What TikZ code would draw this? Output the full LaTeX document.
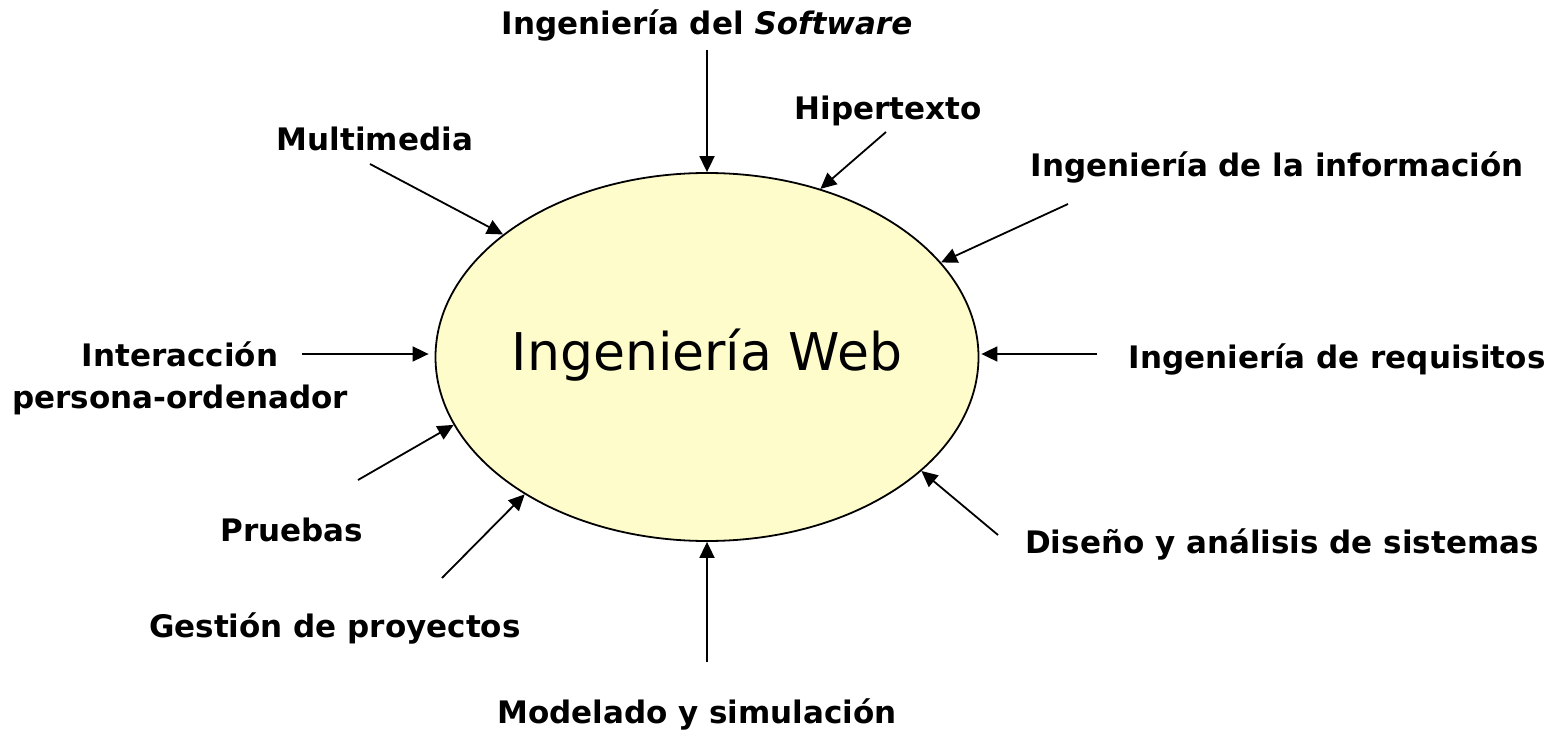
\documentclass[tikz,border=0pt]{standalone}
\usepackage{fontspec}
\setmainfont{DejaVu Sans}
\usetikzlibrary{shapes.geometric,arrows.meta}
\tikzset{
  lbl/.style={font=\fontsize{31}{42}\selectfont\bfseries, align=center, inner sep=0pt},
  arr/.style={line width=1.8pt, -{Triangle[length=16pt,width=15pt]}},
  oval/.style={ellipse, draw, line width=1.8pt, fill=yellow!20, minimum width=543pt, minimum height=368pt, inner sep=0pt}
}
\begin{document}
\begin{tikzpicture}[x=1pt,y=-1pt]
\useasboundingbox (0,0) rectangle (1563,730);
\node[oval] (web) at (707,357) {};
\node[font=\fontsize{52}{60}\selectfont, inner sep=0pt] (webtxt) at (707,355) {Ingeniería Web};

\node[lbl] (sw) at (707,25) {Ingeniería del \textit{Software}};
\node[lbl] (hip) at (888,111) {Hipertexto};
\node[lbl] (mul) at (375,139) {Multimedia};
\node[lbl] (inf) at (1277,167) {Ingeniería de la información};
\node[lbl] (ipo) at (180,378) {Interacción\\persona-ordenador};
\node[lbl] (req) at (1337,359) {Ingeniería de requisitos};
\node[lbl] (pru) at (292,530) {Pruebas};
\node[lbl] (dis) at (1282,544) {Diseño y análisis de sistemas};
\node[lbl] (ges) at (335,628) {Gestión de proyectos};
\node[lbl] (mod) at (697,714) {Modelado y simulación};

\coordinate (s1) at (707,50);
\coordinate (s2) at (886,132);
\coordinate (s3) at (370,164);
\coordinate (s4) at (1068,204);
\coordinate (s5) at (302,354);
\coordinate (s6) at (1097,354);
\coordinate (s7) at (358,480);
\coordinate (s8) at (998,535);
\coordinate (s9) at (442,578);
\coordinate (s10) at (707,662);

\draw[arr] (s1) -- (web.90);
\draw[arr] (s2) -- (web.56.5);
\draw[arr] (s3) -- (web.149.5);
\draw[arr] (s4) -- (web.22.8);
\draw[arr] (s5) -- ([xshift=-6pt]s5 -| web.west);
\draw[arr] (s6) -- ([xshift=2pt]s6 -| web.east);
\draw[arr] (s7) -- (web.195.5);
\draw[arr] (s8) -- (web.332.3);
\draw[arr] (s9) -- (web.217.3);
\draw[arr] (s10) -- (web.270);
\end{tikzpicture}
\end{document}
